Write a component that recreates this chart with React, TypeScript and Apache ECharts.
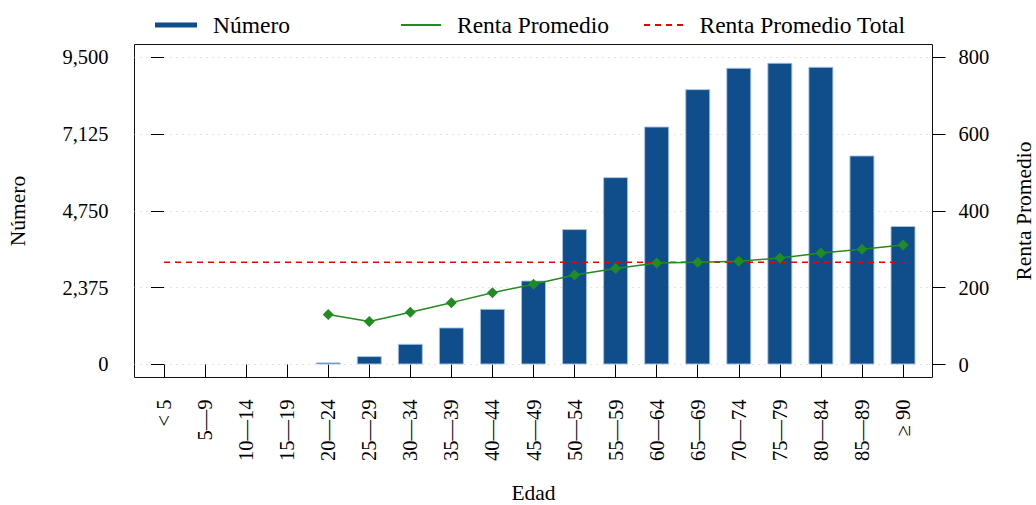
import React, { useEffect, useRef } from "react";
import * as echarts from "echarts";

const categories = ["< 5", "5—9", "10—14", "15—19", "20—24", "25—29", "30—34", "35—39", "40—44", "45—49", "50—54", "55—59", "60—64", "65—69", "70—74", "75—79", "80—84", "85—89", "≥ 90"];
const numero: (number | null)[] = [null, null, null, null, 65, 260, 640, 1145, 1720, 2595, 4185, 5790, 7355, 8510, 9170, 9325, 9200, 6460, 4280];
const rentaPromedio: (number | null)[] = [null, null, null, null, 130, 112, 136, 161, 187, 209, 233, 250, 264, 266, 269, 277, 290, 300, 311];
const rentaPromedioTotal = 266;
const leftTicks = [0, 2375, 4750, 7125, 9500];
const rightTicks = [0, 200, 400, 600, 800];

const FONT = "Liberation Serif";

export default function App() {
  const ref = useRef<HTMLDivElement>(null);
  useEffect(() => {
    document.body.style.margin = "0";
    document.body.style.overflow = "hidden";
    const chart = echarts.init(ref.current!, null, { renderer: "svg", width: 1036, height: 505 });
    const idx = categories.map((_, i) => i);
    const barData = numero.map((v, i) => (v == null ? null : [i, v])).filter((d) => d !== null);
    const lineData = rentaPromedio.map((v, i) => (v == null ? null : [i, v])).filter((d) => d !== null);
    const totalData = [[0, rentaPromedioTotal], [categories.length - 1, rentaPromedioTotal]];
    const legendText = { fontFamily: FONT, fontSize: 23.5, color: "#000" };
    const nameStyle = { fontFamily: FONT, fontSize: 21.5, color: "#000" };
    chart.setOption({
      animation: false,
      textStyle: { fontFamily: FONT },
      grid: { left: 134.5, top: 44.5, right: 103.5, bottom: 127.5, show: true, borderColor: "#111", borderWidth: 1, backgroundColor: "transparent", containLabel: false, outerBoundsMode: "none" },
      legend: [
        { left: 150, top: 8, selectedMode: false, itemWidth: 42, itemHeight: 5, data: [{ name: "Número", icon: "rect", itemStyle: { borderWidth: 0 } }], textStyle: { ...legendText, padding: [0, 0, 0, 11] } },
        { left: 396, top: 8, selectedMode: false, itemWidth: 40, itemHeight: 2, data: [{ name: "Renta Promedio", icon: "rect" }], textStyle: { ...legendText, padding: [0, 0, 0, 11] } },
        { left: 639, top: 8, selectedMode: false, itemWidth: 40, itemHeight: 2, data: [{ name: "Renta Promedio Total", icon: "path://M0,0h6v2h-6z M11,0h6v2h-6z M22,0h6v2h-6z M33,0h6v2h-6z" }], textStyle: { ...legendText, padding: [0, 0, 0, 11] } },
      ],
      xAxis: {
        type: "value",
        min: -0.7185,
        max: categories.length - 1 + 0.7185,
        name: "Edad",
        nameLocation: "middle",
        nameGap: 104,
        nameTextStyle: nameStyle,
        axisLine: { show: false },
        axisTick: { show: true, customValues: idx, length: 13, lineStyle: { color: "#000" } },
        axisLabel: { customValues: idx, rotate: 90, margin: 22, fontFamily: FONT, fontSize: 20.5, color: "#000", formatter: (v: number) => categories[Math.round(v)] ?? "" },
        splitLine: { show: false },
      },
      yAxis: [
        {
          type: "value",
          min: -401.8,
          max: 9889.4,
          name: "Número",
          nameLocation: "middle",
          nameGap: 106,
          nameTextStyle: nameStyle,
          axisLine: { show: false },
          axisTick: { show: true, customValues: leftTicks, length: 13, lineStyle: { color: "#000" } },
          axisLabel: { customValues: leftTicks, margin: 26, fontFamily: FONT, fontSize: 20.5, color: "#000", formatter: (v: number) => v.toLocaleString("en-US") },
          splitLine: { show: true, lineStyle: { color: "#c8c8c8", type: [1, 5], width: 1 } },
        },
        {
          type: "value",
          min: -33.8,
          max: 832.8,
          position: "right",
          name: "Renta Promedio",
          nameLocation: "middle",
          nameGap: 80,
          nameTextStyle: nameStyle,
          axisLine: { show: false },
          axisTick: { show: true, customValues: rightTicks, length: 13, lineStyle: { color: "#000" } },
          axisLabel: { customValues: rightTicks, margin: 26, fontFamily: FONT, fontSize: 20.5, color: "#000" },
          splitLine: { show: false },
        },
      ],
      series: [
        {
          name: "Número",
          type: "bar",
          xAxisIndex: 0,
          yAxisIndex: 0,
          barWidth: 25,
          data: barData,
          itemStyle: { color: "#104E8B", borderColor: "rgba(170,195,225,0.9)", borderWidth: 1 },
          z: 2,
        },
        {
          name: "Renta Promedio",
          type: "line",
          xAxisIndex: 0,
          yAxisIndex: 1,
          data: lineData,
          symbol: "diamond",
          symbolSize: 11,
          itemStyle: { color: "#228B22" },
          lineStyle: { color: "#228B22", width: 1.5 },
          z: 4,
        },
        {
          name: "Renta Promedio Total",
          type: "line",
          xAxisIndex: 0,
          yAxisIndex: 1,
          data: totalData,
          symbol: "none",
          itemStyle: { color: "#ee0000" },
          lineStyle: { color: "#ee0000", width: 1.5, type: [6, 5] },
          z: 3,
        },
      ],
    });
    return () => chart.dispose();
  }, []);
  return <div ref={ref} style={{ position: "absolute", left: 0, top: 0, width: 1036, height: 505 }} />;
}
